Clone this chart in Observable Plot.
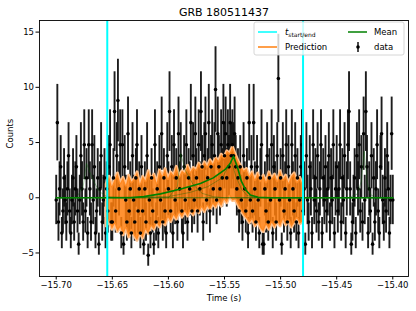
<!DOCTYPE html>
<html>
<head>
<meta charset="utf-8">
<script src="https://cdn.jsdelivr.net/npm/d3@7"></script>
<script src="https://cdn.jsdelivr.net/npm/@observablehq/plot@0.6"></script>
<style>
  html, body { margin: 0; padding: 0; background: #fff; }
  #chart svg { display: block; }
</style>
</head>
<body>
<div id="chart"></div>
<script>
// ---- data ----
const title = "GRB 180511437";
const xLabel = "Time (s)";
const yLabel = "Counts";
const xTicks = [-15.70, -15.65, -15.60, -15.55, -15.50, -15.45, -15.40];
const yTicks = [-5, 0, 5, 10, 15];

const binStart = -15.700;
const binWidth = 0.001;
const background = 5.2;
// raw counts per 1 ms bin
const counts = [
  5,12,3,6,8,2,4,7,5,3,6,9,4,2,5,7,3,6,8,4,1,5,9,6,3,
  10,4,7,2,10,6,3,10,5,8,2,4,7,1,6,9,3,5,7,2,6,4,8,10,3,
  3,7,13,4,9,14,6,10,2,10,1,8,5,3,11,4,6,2,9,5,3,7,10,4,6,
  2,8,4,1,6,3,9,0,5,2,7,4,1,10,3,6,2,8,5,11,3,7,4,2,9,
  6,13,4,8,2,10,5,7,3,11,6,9,4,2,8,5,10,3,7,6,12,4,9,5,11,
  7,4,10,6,13,8,3,9,11,5,7,12,4,8,10,6,9,15,5,11,8,6,10,7,12,
  9,11,7,10,8,12,9,10,9,11,8,6,7,4,8,5,3,9,6,4,7,2,12,5,8,
  4,12,6,3,8,5,2,7,10,1,1,6,4,9,3,7,5,10,2,8,6,3,9,16,5,
  7,1,9,4,6,10,3,8,5,2,10,6,4,9,3,7,2,5,8,10,4,6,1,9,5,
  3,8,6,2,10,5,7,4,9,3,6,10,2,7,5,8,4,6,9,3,7,5,10,2,6,
  8,4,6,10,3,7,5,9,2,6,10,13,6,1,3,5,7,2,9,6,10,4,8,3,11,
  5,13,8,2,6,4,9,1,7,3,6,10,4,2,8,11,5,3,7,4,9,6,2,5,11,
  5
];

const tStartEnd = [-15.6545, -15.480];

// prediction band (sampled every 2.5 ms between t_start and t_end)
const predStart = -15.655;
const predStep = 0.0025;
const predHi = [
  1.2,1.9,1.0,1.6,2.2,1.3,1.8,1.1,2.0,1.4,
  1.7,2.3,1.2,1.9,1.5,2.4,1.6,2.1,1.3,2.5,
  1.9,2.6,1.7,2.3,2.0,2.8,1.9,2.4,2.2,2.9,
  2.3,2.7,2.5,3.1,2.6,3.2,2.8,3.4,3.0,3.6,
  3.3,3.9,3.6,4.2,4.0,4.6,3.9,3.3,2.8,2.4,
  2.6,1.9,2.3,1.6,2.2,1.5,2.0,1.4,2.3,1.7,
  2.1,1.5,2.4,1.6,2.0,1.3,1.9,2.2,1.4,1.8,
  1.2
];
const predLo = [
  -2.6,-2.1,-2.9,-2.4,-3.1,-2.7,-3.4,-2.8,-3.6,-3.0,
  -3.5,-3.9,-3.2,-3.7,-2.9,-3.3,-2.6,-2.9,-2.3,-2.7,
  -2.1,-2.5,-1.8,-2.2,-1.6,-2.0,-1.4,-1.8,-1.3,-1.7,
  -1.2,-1.6,-1.0,-1.4,-0.9,-1.3,-0.8,-1.1,-0.6,-0.9,
  -0.4,-0.8,-0.2,-0.5,0.1,-0.3,-0.2,-0.7,-1.2,-1.6,
  -1.9,-2.3,-2.0,-2.6,-2.2,-2.8,-3.1,-2.5,-2.9,-2.3,
  -2.7,-2.2,-2.6,-2.0,-2.5,-2.1,-2.7,-2.3,-1.9,-2.4,
  -2.2
];

// mean curve (time, value)
const meanT = [-15.70, -15.634, -15.622, -15.607, -15.589, -15.5715, -15.56, -15.549, -15.545, -15.542, -15.538, -15.535, -15.531, -15.527, -15.520, -15.509, -15.40];
const meanV = [0, 0, 0.1, 0.35, 0.8, 1.3, 1.8, 2.6, 3.1, 3.75, 2.6, 1.5, 0.7, 0.25, 0.05, 0, 0];

// faint sample curves
const samples = [
  {t: [-15.70, -15.682, -15.676, -15.673, -15.668, -15.662, -15.655, -15.64, -15.40], v: [0, 0, 1.0, 3.1, 1.8, 0.6, 0.1, 0, 0]},
  {t: [-15.70, -15.44, -15.432, -15.428, -15.4255, -15.423, -15.42, -15.415, -15.40], v: [0, 0, 0.3, 1.5, 4.2, 1.5, 0.3, 0, 0]},
  {t: [-15.70, -15.60, -15.58, -15.565, -15.552, -15.544, -15.54, -15.535, -15.53, -15.52, -15.40], v: [0, 0.1, 0.5, 1.0, 1.8, 3.3, 2.0, 0.8, 0.2, 0, 0]},
  {t: [-15.70, -15.60, -15.592, -15.589, -15.585, -15.578, -15.57, -15.56, -15.55, -15.40], v: [0, 0, 1.0, 4.0, 2.5, 1.2, 0.4, 0.1, 0, 0]}
];

// ---- build tables ----
const data = counts.map((n, i) => {
  const e = Math.sqrt(Math.max(n, 1));
  const v = n - background;
  return {t: binStart + i * binWidth, v, lo: v - e, hi: v + e};
});
const pred = predHi.map((h, k) => ({t: predStart + k * predStep, hi: h, lo: predLo[k]}));
const mean = meanT.map((t, i) => ({t, v: meanV[i]}));
const sampleRows = samples.flatMap((s, j) => s.t.map((t, i) => ({t, v: s.v[i], s: j})));

const fmtX = d3.format(".2f");
const fmtY = d3.format("d");

const W = 416, H = 311;
const chart = Plot.plot({
  width: W,
  height: H,
  marginLeft: 39,
  marginRight: 8,
  marginTop: 20,
  marginBottom: 35,
  style: {fontFamily: "DejaVu Sans, sans-serif", fontSize: "8.5px", color: "black", background: "white"},
  x: {domain: [-15.7149, -15.386]},
  y: {domain: [-7.13, 16.05]},
  marks: [
    Plot.ruleX(data, {x: "t", y1: "lo", y2: "hi", stroke: "#111", strokeWidth: 1.9, strokeOpacity: 0.95}),
    Plot.areaY(pred, {x: "t", y1: "lo", y2: "hi", fill: "none", stroke: "#ffc08a", strokeWidth: 3, curve: "linear"}),
    Plot.areaY(pred, {x: "t", y1: "lo", y2: "hi", fill: "#ff7f0e", fillOpacity: 0.85, curve: "linear"}),
    Plot.dot(data, {x: "t", y: "v", r: 1.8, fill: "#000", stroke: "none"}),
    Plot.line(sampleRows, {x: "t", y: "v", z: "s", stroke: "#006400", strokeWidth: 0.8, strokeOpacity: 0.45}),
    Plot.line(mean, {x: "t", y: "v", stroke: "#008000", strokeWidth: 1.6}),
    Plot.ruleX(tStartEnd, {stroke: "#00ffff", strokeWidth: 2}),
    Plot.frame({stroke: "black", strokeWidth: 0.9}),
    Plot.axisX({ticks: xTicks, tickFormat: fmtX, tickSize: 3.5, tickPadding: 2, label: null, fontSize: 8.5}),
    Plot.axisY({ticks: yTicks, tickFormat: fmtY, tickSize: 3.5, tickPadding: 2, label: null, fontSize: 8.5}),
    Plot.text([xLabel], {frameAnchor: "bottom", lineAnchor: "middle", dy: 22, fontSize: 8.5, fill: "black"}),
    Plot.text([yLabel], {frameAnchor: "left", lineAnchor: "middle", dx: -29, rotate: -90, fontSize: 8.5, fill: "black"}),
    Plot.text([title], {frameAnchor: "top", lineAnchor: "middle", dy: -8, fontSize: 11, fill: "black"})
  ]
});
document.getElementById("chart").appendChild(chart);

// ---- legend (inside plot, upper right) ----
const svg = d3.select(chart);
const lg = svg.append("g").attr("font-family", "DejaVu Sans, sans-serif").attr("font-size", 8.5).attr("text-anchor", "start").attr("fill", "black");
lg.append("rect").attr("x", 254).attr("y", 22).attr("width", 150).attr("height", 33)
  .attr("rx", 2).attr("fill", "white").attr("fill-opacity", 0.8).attr("stroke", "#cccccc").attr("stroke-width", 0.8);
// t start/end
lg.append("line").attr("x1", 258).attr("x2", 277).attr("y1", 32).attr("y2", 32).attr("stroke", "#00ffff").attr("stroke-width", 1.5);
const tt = lg.append("text").attr("x", 285).attr("y", 35);
tt.append("tspan").attr("font-style", "italic").text("t");
tt.append("tspan").attr("font-size", 6).attr("dy", 2).text("start/end");
// prediction
lg.append("line").attr("x1", 258).attr("x2", 277).attr("y1", 47).attr("y2", 47).attr("stroke", "#ff7f0e").attr("stroke-width", 1.5);
lg.append("text").attr("x", 285).attr("y", 50).text("Prediction");
// mean
lg.append("line").attr("x1", 348).attr("x2", 367).attr("y1", 32).attr("y2", 32).attr("stroke", "#008000").attr("stroke-width", 1.5);
lg.append("text").attr("x", 374).attr("y", 35).text("Mean");
// data
lg.append("line").attr("x1", 358).attr("x2", 358).attr("y1", 42).attr("y2", 52).attr("stroke", "#111").attr("stroke-width", 1.5);
lg.append("circle").attr("cx", 358).attr("cy", 47).attr("r", 1.8).attr("fill", "#000");
lg.append("text").attr("x", 374).attr("y", 50).text("data");
</script>
</body>
</html>
